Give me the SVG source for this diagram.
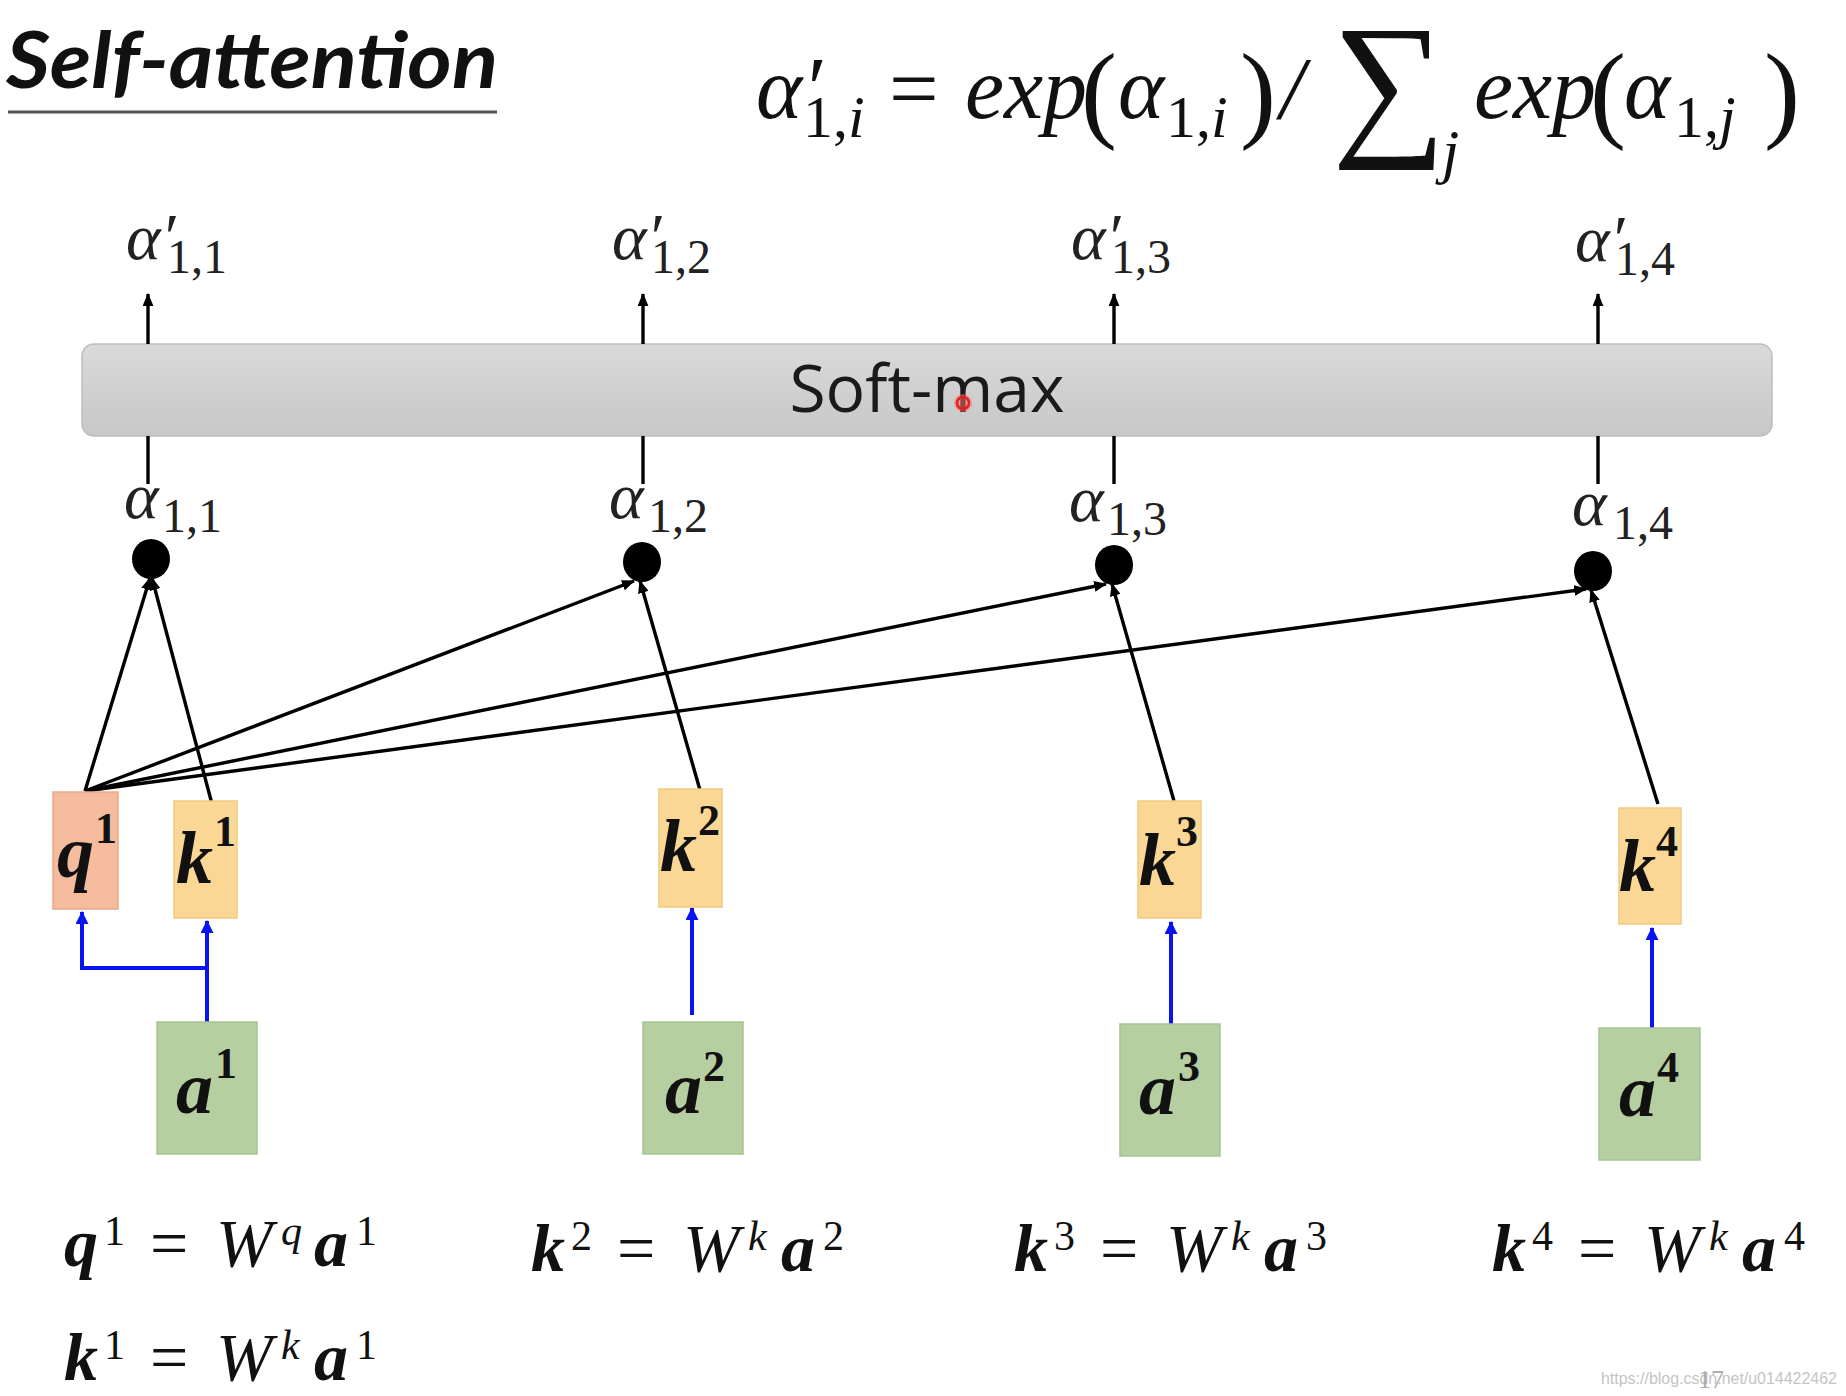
<svg xmlns="http://www.w3.org/2000/svg" width="1846" height="1396" viewBox="0 0 1846 1396">
<style>
.title{font-family:Lato,"Liberation Sans",sans-serif;font-weight:bold;font-style:italic;font-size:78px;fill:#111}
.m{font-family:"Liberation Serif",serif;font-style:italic;fill:#111}
.up{font-family:"Liberation Serif",serif;font-style:normal;fill:#111}
.bx{font-family:"Liberation Serif",serif;font-weight:bold;font-style:italic;font-size:74px;fill:#111}
.bxs{font-family:"Liberation Serif",serif;font-weight:bold;font-size:44px;fill:#111}
.eq{font-family:"Liberation Serif",serif;font-size:68px;fill:#111}
.b{font-weight:bold;font-style:italic}
.i{font-style:italic}
.s{font-size:42px}
.lbl{font-family:"Liberation Serif",serif;font-style:italic;font-size:66px;fill:#222}
.sub{font-family:"Liberation Serif",serif;font-size:48px;fill:#222}
.qbox{fill:#f4bb9c;stroke:#eaa98a;stroke-width:1.5}
.kbox{fill:#fad794;stroke:#f2ca7c;stroke-width:1.5}
.abox{fill:#b5cfa1;stroke:#a6c392;stroke-width:1.5}
.blk{stroke:#000;stroke-width:3.4;fill:none}
.blu{stroke:#0a14f0;stroke-width:4;fill:none}
</style>
<defs>
<marker id="ah" viewBox="0 0 12 10" refX="11" refY="5" markerWidth="13" markerHeight="11" markerUnits="userSpaceOnUse" orient="auto"><path d="M0,0 L12,5 L0,10 z" fill="#000"/></marker>
<marker id="bh" viewBox="0 0 12 12" refX="11" refY="6" markerWidth="13" markerHeight="13" markerUnits="userSpaceOnUse" orient="auto"><path d="M0,0 L12,6 L0,12 z" fill="#0a14f0"/></marker>
<linearGradient id="gbar" x1="0" y1="0" x2="0" y2="1"><stop offset="0" stop-color="#dadada"/><stop offset="1" stop-color="#c7c7c7"/></linearGradient>
</defs>
<rect width="1846" height="1396" fill="#fff"/>

<g id="title">
<text class="title" x="6" y="88" textLength="492" lengthAdjust="spacingAndGlyphs">Self-attention</text>
<line x1="8" y1="112" x2="497" y2="112" stroke="#555" stroke-width="3"/>
</g>

<g id="formula">
<text class="m" x="756" y="118" font-size="88">α′</text>
<text class="up" x="803" y="137" font-size="60">1,<tspan class="i">i</tspan></text>
<text class="up" x="889" y="118" font-size="88">=</text>
<text class="m" x="965" y="118" font-size="88">exp</text>
<text class="up" x="1081" y="128" font-size="108">(</text>
<text class="m" x="1118" y="118" font-size="88">α</text>
<text class="up" x="1166" y="137" font-size="60">1,<tspan class="i">i</tspan></text>
<text class="up" x="1240" y="128" font-size="108">)</text>
<text class="m" x="1280" y="118" font-size="88">/</text>
<text class="up" x="1332" y="136" font-size="160" font-family="DejaVu Serif,serif">∑</text>
<text class="m" x="1442" y="172" font-size="62">j</text>
<text class="m" x="1474" y="118" font-size="88">exp</text>
<text class="up" x="1590" y="128" font-size="108">(</text>
<text class="m" x="1624" y="118" font-size="88">α</text>
<text class="up" x="1674" y="137" font-size="60">1,<tspan class="i">j</tspan></text>
<text class="up" x="1764" y="128" font-size="108">)</text>
</g>

<g id="softmax">
<rect x="82" y="344" width="1690" height="92" rx="12" fill="url(#gbar)" stroke="#bdbdbd" stroke-width="1.5"/>
<text x="927" y="412" text-anchor="middle" font-family="'Open Sans',sans-serif" font-size="66" fill="#1a1a1a">Soft-max</text>
<circle cx="963" cy="403" r="9" fill="#ff6b6b" opacity="0.55"/>
<circle cx="963" cy="403" r="6" fill="none" stroke="#e02020" stroke-width="2.5"/>
</g>

<g id="out-labels">
<text class="lbl" x="126" y="259">α′</text><text class="sub" x="167" y="273">1,1</text>
<text class="lbl" x="612" y="259">α′</text><text class="sub" x="651" y="273">1,2</text>
<text class="lbl" x="1071" y="259">α′</text><text class="sub" x="1111" y="273">1,3</text>
<text class="lbl" x="1575" y="261">α′</text><text class="sub" x="1615" y="275">1,4</text>
</g>

<g id="in-labels">
<text class="lbl" x="124" y="518">α</text><text class="sub" x="162" y="532">1,1</text>
<text class="lbl" x="609" y="518">α</text><text class="sub" x="648" y="532">1,2</text>
<text class="lbl" x="1069" y="521">α</text><text class="sub" x="1107" y="535">1,3</text>
<text class="lbl" x="1572" y="525">α</text><text class="sub" x="1613" y="539">1,4</text>
</g>

<g id="dots" fill="#000">
<g id="dot1"><ellipse cx="151" cy="559" rx="19" ry="20"/></g>
<g id="dot2"><ellipse cx="642" cy="562" rx="19" ry="20"/></g>
<g id="dot3"><ellipse cx="1114" cy="565" rx="19" ry="20"/></g>
<g id="dot4"><ellipse cx="1593" cy="571" rx="19" ry="20"/></g>
</g>

<g id="connectors">
<line class="blk" x1="148" y1="344" x2="148" y2="294" marker-end="url(#ah)"/>
<line class="blk" x1="643" y1="344" x2="643" y2="294" marker-end="url(#ah)"/>
<line class="blk" x1="1114" y1="344" x2="1114" y2="294" marker-end="url(#ah)"/>
<line class="blk" x1="1598" y1="344" x2="1598" y2="294" marker-end="url(#ah)"/>
<line class="blk" x1="148" y1="436" x2="148" y2="484"/>
<line class="blk" x1="643" y1="436" x2="643" y2="484"/>
<line class="blk" x1="1114" y1="436" x2="1114" y2="484"/>
<line class="blk" x1="1598" y1="436" x2="1598" y2="484"/>

<line class="blk" x1="85" y1="791" x2="150" y2="578" marker-end="url(#ah)"/>
<line class="blk" x1="85" y1="791" x2="634" y2="581" marker-end="url(#ah)"/>
<line class="blk" x1="85" y1="791" x2="1106" y2="584" marker-end="url(#ah)"/>
<line class="blk" x1="85" y1="791" x2="1586" y2="589" marker-end="url(#ah)"/>
<line class="blk" x1="212" y1="804" x2="152" y2="578" marker-end="url(#ah)"/>
<line class="blk" x1="702" y1="797" x2="640" y2="581" marker-end="url(#ah)"/>
<line class="blk" x1="1174" y1="801" x2="1112" y2="584" marker-end="url(#ah)"/>
<line class="blk" x1="1658" y1="804" x2="1591" y2="590" marker-end="url(#ah)"/>

<polyline class="blu" points="207,1022 207,921" marker-end="url(#bh)"/>
<polyline class="blu" points="207,968 82,968 82,912" marker-end="url(#bh)"/>
<line class="blu" x1="692" y1="1015" x2="692" y2="908" marker-end="url(#bh)"/>
<line class="blu" x1="1171" y1="1024" x2="1171" y2="922" marker-end="url(#bh)"/>
<line class="blu" x1="1652" y1="1032" x2="1652" y2="928" marker-end="url(#bh)"/>
</g>

<g id="q1">
<rect class="qbox" x="53" y="792" width="65" height="117"/>
<text class="bx" x="57" y="877">q</text><text class="bxs" x="95" y="843">1</text>
</g>
<g id="k1">
<rect class="kbox" x="174" y="801" width="63" height="117"/>
<text class="bx" x="176" y="883">k</text><text class="bxs" x="214" y="846">1</text>
</g>
<g id="k2">
<rect class="kbox" x="659" y="789" width="63" height="118"/>
<text class="bx" x="660" y="871">k</text><text class="bxs" x="698" y="835">2</text>
</g>
<g id="k3">
<rect class="kbox" x="1138" y="801" width="63" height="117"/>
<text class="bx" x="1139" y="885">k</text><text class="bxs" x="1176" y="846">3</text>
</g>
<g id="k4">
<rect class="kbox" x="1619" y="808" width="62" height="116"/>
<text class="bx" x="1619" y="891">k</text><text class="bxs" x="1656" y="856">4</text>
</g>
<g id="a1">
<rect class="abox" x="157" y="1022" width="100" height="132"/>
<text class="bx" x="176" y="1113">a</text><text class="bxs" x="215" y="1078">1</text>
</g>
<g id="a2">
<rect class="abox" x="643" y="1022" width="100" height="132"/>
<text class="bx" x="665" y="1113">a</text><text class="bxs" x="703" y="1081">2</text>
</g>
<g id="a3">
<rect class="abox" x="1120" y="1024" width="100" height="132"/>
<text class="bx" x="1139" y="1114">a</text><text class="bxs" x="1178" y="1081">3</text>
</g>
<g id="a4">
<rect class="abox" x="1599" y="1028" width="101" height="132"/>
<text class="bx" x="1619" y="1116">a</text><text class="bxs" x="1657" y="1082">4</text>
</g>

<g id="equations">
<text class="eq" y="1266"><tspan class="b" x="64">q</tspan><tspan class="s" x="104" y="1245">1</tspan><tspan x="150" y="1266">=</tspan><tspan class="i" x="216">W</tspan><tspan class="i s" x="281" y="1245">q</tspan><tspan class="b" x="314" y="1266">a</tspan><tspan class="s" x="356" y="1245">1</tspan></text>
<text class="eq" y="1380"><tspan class="b" x="64">k</tspan><tspan class="s" x="104" y="1359">1</tspan><tspan x="150" y="1380">=</tspan><tspan class="i" x="216">W</tspan><tspan class="i s" x="281" y="1359">k</tspan><tspan class="b" x="314" y="1380">a</tspan><tspan class="s" x="356" y="1359">1</tspan></text>
<text class="eq" y="1271"><tspan class="b" x="531">k</tspan><tspan class="s" x="571" y="1250">2</tspan><tspan x="617" y="1271">=</tspan><tspan class="i" x="683">W</tspan><tspan class="i s" x="748" y="1250">k</tspan><tspan class="b" x="781" y="1271">a</tspan><tspan class="s" x="823" y="1250">2</tspan></text>
<text class="eq" y="1271"><tspan class="b" x="1014">k</tspan><tspan class="s" x="1054" y="1250">3</tspan><tspan x="1100" y="1271">=</tspan><tspan class="i" x="1166">W</tspan><tspan class="i s" x="1231" y="1250">k</tspan><tspan class="b" x="1264" y="1271">a</tspan><tspan class="s" x="1306" y="1250">3</tspan></text>
<text class="eq" y="1271"><tspan class="b" x="1492">k</tspan><tspan class="s" x="1532" y="1250">4</tspan><tspan x="1578" y="1271">=</tspan><tspan class="i" x="1644">W</tspan><tspan class="i s" x="1709" y="1250">k</tspan><tspan class="b" x="1742" y="1271">a</tspan><tspan class="s" x="1784" y="1250">4</tspan></text>
</g>

<g id="watermark">
<text x="1601" y="1384" font-family="'Liberation Sans',sans-serif" font-size="17" fill="#c4c4c4" textLength="236" lengthAdjust="spacingAndGlyphs">https://blog.csdn.net/u014422462</text>
<text x="1698" y="1388" font-family="'Liberation Serif',serif" font-size="26" fill="#9a9a9a" opacity="0.8">17</text>
</g>
</svg>
